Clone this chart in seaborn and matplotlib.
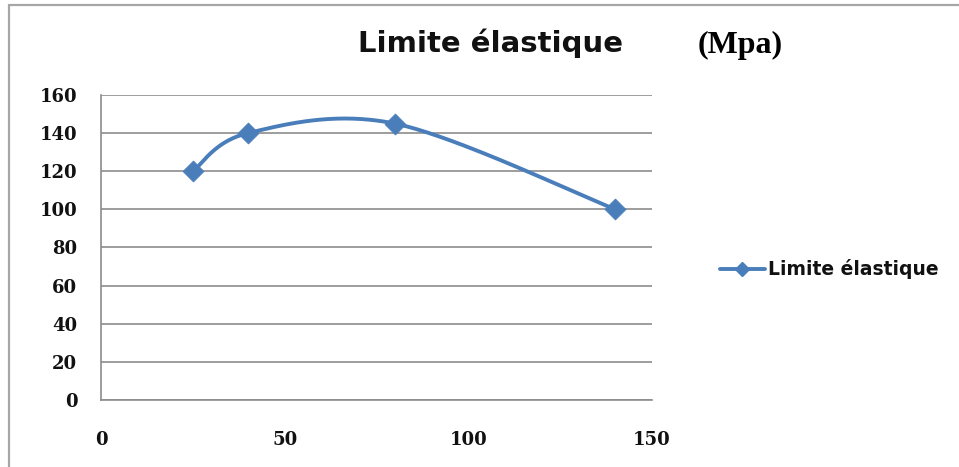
import numpy as np
import pandas as pd
import matplotlib
matplotlib.use("Agg")
import matplotlib.pyplot as plt
from matplotlib.lines import Line2D
import seaborn as sns

# Data
temperature = [25, 40, 80, 140]
limite_elastique = [120, 140, 145, 100]
series_name = "Limite élastique"
title_text = "Limite élastique"
unit_text = "(Mpa)"
x_ticks = [0, 50, 100, 150]
y_ticks = [0, 20, 40, 60, 80, 100, 120, 140, 160]

BLUE = "#4A7EBB"
GRID = "#8C8C8C"
FRAME = "#A6A6A6"


def smooth_curve(xs, ys, n=60):
    """Catmull-Rom style Bezier smoothing through the given points."""
    pts = np.column_stack([xs, ys]).astype(float)
    out = []
    m = len(pts)
    for i in range(m - 1):
        p0 = pts[i]
        p3 = pts[i + 1]
        prev = pts[i - 1] if i > 0 else pts[i]
        nxt = pts[i + 2] if i + 2 < m else pts[i + 1]
        p1 = p0 + (p3 - prev) / 6.0
        p2 = p3 - (nxt - p0) / 6.0
        t = np.linspace(0, 1, n)[:, None]
        seg = ((1 - t) ** 3) * p0 + 3 * ((1 - t) ** 2) * t * p1 + 3 * (1 - t) * t ** 2 * p2 + t ** 3 * p3
        out.append(seg if i == 0 else seg[1:])
    c = np.vstack(out)
    return c[:, 0], c[:, 1]


sns.set_theme(style="white")
plt.rcParams["font.family"] = ["DejaVu Sans"]

fig = plt.figure(figsize=(9.59, 4.67), dpi=100)
ax = fig.add_axes([0.1053, 0.1435, 0.5746, 0.6531])

cx, cy = smooth_curve(temperature, limite_elastique)
curve = pd.DataFrame({"x": cx, "y": cy})
points = pd.DataFrame({"x": temperature, "y": limite_elastique})

sns.lineplot(data=curve, x="x", y="y", sort=False, estimator=None, ax=ax,
             color=BLUE, linewidth=2.8, zorder=3)
sns.scatterplot(data=points, x="x", y="y", ax=ax, marker="D", s=115,
                color=BLUE, edgecolor=BLUE, linewidth=0.5, zorder=4)

ax.set_xlim(0, 150)
ax.set_ylim(0, 160)
ax.set_xticks(x_ticks)
ax.set_yticks(y_ticks)
ax.set_xlabel("")
ax.set_ylabel("")

ax.yaxis.grid(True, color=GRID, linewidth=1.2)
ax.xaxis.grid(False)
for side in ["top", "right"]:
    ax.spines[side].set_visible(False)
for side in ["left", "bottom"]:
    ax.spines[side].set_color(GRID)
    ax.spines[side].set_linewidth(1.2)

ax.tick_params(axis="both", which="major", direction="out", length=5,
               width=1.2, color=GRID, labelcolor="#111111")
ax.tick_params(axis="y", pad=12)
ax.tick_params(axis="x", pad=17)
for lab in ax.get_xticklabels() + ax.get_yticklabels():
    lab.set_family("DejaVu Serif")
    lab.set_fontweight("bold")
    lab.set_fontsize(13)

# Title and unit
fig.text(0.511, 0.889, title_text, ha="center", va="baseline",
         fontsize=21, fontweight="bold", family="DejaVu Sans", color="#111111")
fig.text(0.772, 0.887, unit_text, ha="center", va="baseline",
         fontsize=23, fontweight="bold", family="Liberation Serif", color="black")

# Legend
handle = Line2D([], [], color=BLUE, linewidth=2.8, marker="D", markersize=7.5)
leg = fig.legend([handle], [series_name], loc="center left",
                 bbox_to_anchor=(0.733, 0.423), frameon=False, handlelength=2.4,
                 handletextpad=0.15,
                 prop={"family": "DejaVu Sans", "weight": "bold", "size": 13.5})
for txt in leg.get_texts():
    txt.set_color("#111111")

# Outer chart frame (top and left edges)
fig.add_artist(Line2D([0.0094, 1.0], [0.989, 0.989], transform=fig.transFigure,
                      color=FRAME, linewidth=1.6))
fig.add_artist(Line2D([0.0094, 0.0094], [0.0, 0.989], transform=fig.transFigure,
                      color=FRAME, linewidth=1.6))

fig.savefig("out.png", dpi=100, facecolor="white")
